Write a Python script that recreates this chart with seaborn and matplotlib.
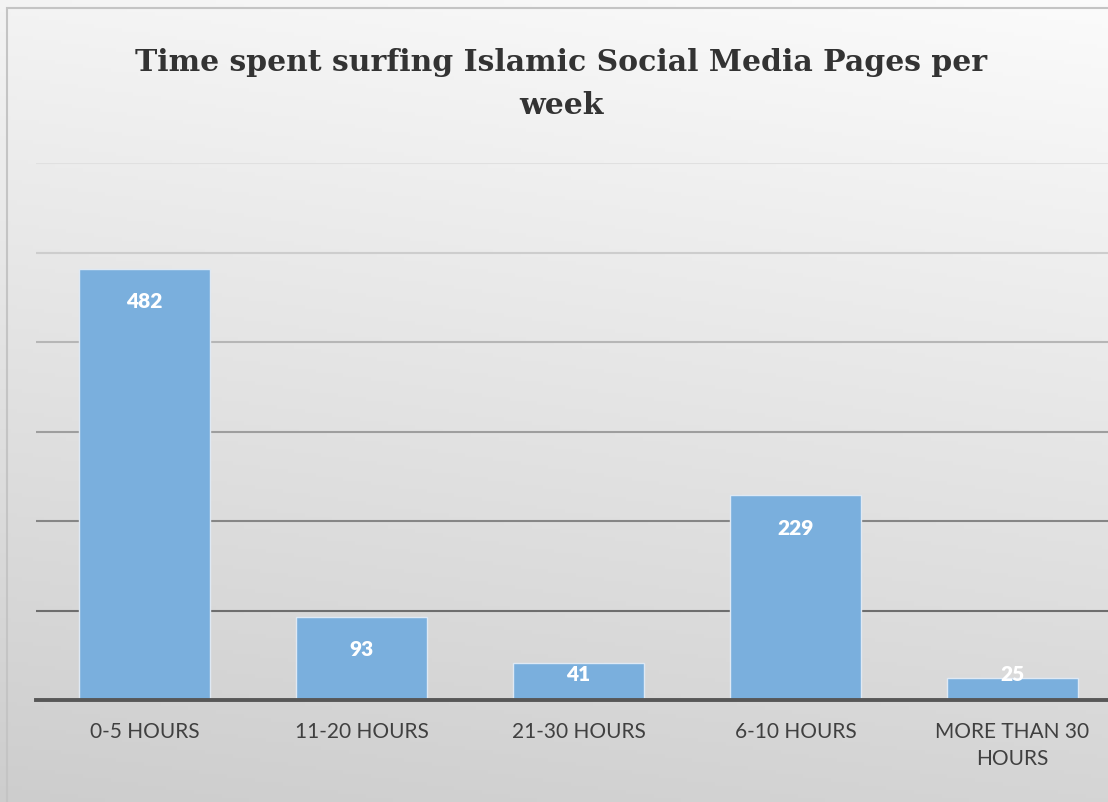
import matplotlib
matplotlib.use("Agg")
import matplotlib.pyplot as plt
import seaborn as sns
import numpy as np
import pandas as pd
from matplotlib.patches import Rectangle

sns.set_theme(style="white")
plt.rcParams['font.family'] = ['Lato', 'DejaVu Sans']

categories = ["0-5 HOURS", "11-20 HOURS", "21-30 HOURS", "6-10 HOURS", "MORE THAN 30\nHOURS"]
counts = [482, 93, 41, 229, 25]
title = "Time spent surfing Islamic Social Media Pages per\nweek"

df = pd.DataFrame({"hours": categories, "count": counts})

fig = plt.figure(figsize=(11.08, 8.02), dpi=100)

# background gradient (near white at top right, grey at bottom left)
bg = fig.add_axes([0, 0, 1, 1], zorder=0)
yy, xx = np.mgrid[0:1:200j, 0:1:200j]
shade = 0.985 - 0.15 * yy - 0.03 * (1 - xx)
rgb = np.dstack([shade, shade, shade])
bg.imshow(rgb, aspect="auto", extent=[0, 1, 0, 1], origin="upper")
bg.set_xlim(0, 1)
bg.set_ylim(0, 1)
bg.axis("off")
fig.patches.append(Rectangle((7 / 1108, -0.01), 1.02, 1 - 8 / 802 + 0.01, transform=fig.transFigure,
                             fill=False, edgecolor="#c4c4c4", linewidth=1.5, zorder=1))

ax = fig.add_axes([36 / 1108, 102 / 802, 1085 / 1108, 537 / 802], zorder=2)
ax.patch.set_alpha(0)
sns.barplot(data=df, x="hours", y="count", order=categories, color="#7AAFDD",
            width=0.6, edgecolor="#dfe9f4", linewidth=1.0, saturation=1, ax=ax, zorder=3)

ax.set_ylim(0, 600)
ax.set_xlim(-0.5, 4.5)
ax.set_yticks(range(0, 700, 100))
ax.set_yticklabels([])
ax.tick_params(axis="y", length=0)
ax.tick_params(axis="x", length=0, pad=16, labelsize=15, labelcolor="#404040")
for lab in ax.get_xticklabels():
    lab.set_linespacing(1.4)
ax.grid(axis="y", linewidth=1.5)
grid_cols = ["#6e6e6e", "#6e6e6e", "#868686", "#9e9e9e", "#b6b6b6", "#cdcdcd", "#e0e0e0"]
for line, c in zip(ax.get_ygridlines(), grid_cols):
    line.set_color(c)
ax.set_axisbelow(True)
for s in ["top", "right", "left"]:
    ax.spines[s].set_visible(False)
ax.spines["bottom"].set_color("#575757")
ax.spines["bottom"].set_linewidth(2.8)
ax.spines["bottom"].set_zorder(5)
ax.set_xlabel("")
ax.set_ylabel("")

for i, v in enumerate(counts):
    ax.text(i, max(v - 37, 28), str(v), ha="center", va="center", color="white",
            fontsize=15, fontweight="heavy", zorder=6)

fig.text(561 / 1108, 1 - 84 / 802, title, ha="center", va="center", fontsize=21.5,
         fontweight="bold", family=["DejaVu Serif"], color="#333333",
         linespacing=1.65, zorder=3)

fig.savefig("out.png", dpi=100)
